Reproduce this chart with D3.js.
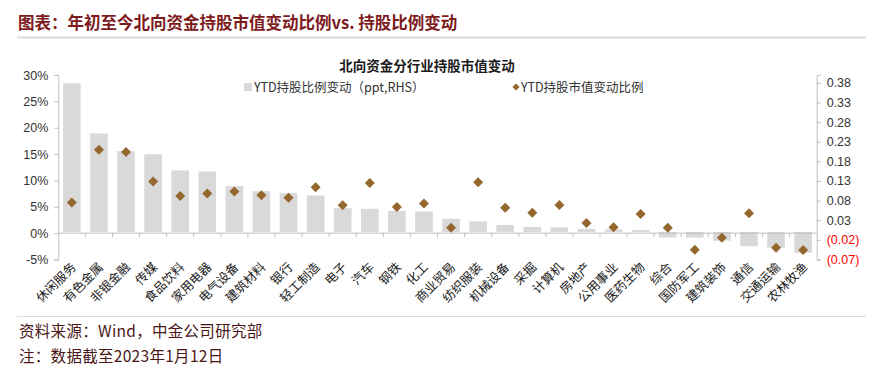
<!DOCTYPE html>
<html><head><meta charset="utf-8">
<script src="https://cdn.jsdelivr.net/npm/d3@7"></script>
<style>
body{margin:0;background:#fff;}
svg{display:block;font-family:"Noto Sans CJK SC","Noto Sans",Arial,sans-serif;}
</style></head>
<body><svg id="c" width="883" height="380"></svg>
<script>
const categories = ["休闲服务","有色金属","非银金融","传媒","食品饮料","家用电器","电气设备","建筑材料","银行","轻工制造","电子","汽车","钢铁","化工","商业贸易","纺织服装","机械设备","采掘","计算机","房地产","公用事业","医药生物","综合","国防军工","建筑装饰","通信","交通运输","农林牧渔"];
// YTD持股比例变动 (ppt, RHS)
const shareChange = [0.379,0.251,0.206,0.198,0.157,0.154,0.117,0.104,0.099,0.093,0.061,0.059,0.054,0.052,0.034,0.027,0.018,0.013,0.012,0.008,0.007,0.005,-0.014,-0.014,-0.022,-0.036,-0.040,-0.053];
// YTD持股市值变动比例 (LHS, %)
const mvChange = [5.8,15.8,15.4,9.8,7.05,7.5,7.9,7.2,6.7,8.7,5.3,9.5,4.96,5.6,1.03,9.65,4.83,3.88,5.34,1.92,1.1,3.63,1.03,-3.16,-0.87,3.76,-2.78,-3.21];
const leftTicks = [-5,0,5,10,15,20,25,30];
const rightTicks = [-0.07,-0.02,0.03,0.08,0.13,0.18,0.23,0.28,0.33,0.38];

const svg = d3.select("#c");
const x0 = 58.3, x1 = 816.7, yTop = 75, yBot = 259.5;
const x = d3.scaleBand().domain(categories).range([x0,x1]).paddingInner(0.35).paddingOuter(0.175);
const yL = d3.scaleLinear().domain([-5,30]).range([yBot,yTop]);
const yR = d3.scaleLinear().domain([-0.07,0.40]).range([yBot,yTop]);
const axisCol = "#bfbfbf", txtCol = "#333";
const diamond = r => `M0,${-r}L${r},0L0,${r}L${-r},0Z`;

// header
svg.append("text").attr("x",18).attr("y",29).attr("font-size",16.5).attr("font-weight","bold")
  .attr("fill","#7d1a1c").text("图表：年初至今北向资金持股市值变动比例vs. 持股比例变动");
svg.append("line").attr("x1",17).attr("x2",866).attr("y1",37.5).attr("y2",37.5).attr("stroke","#dcdcdc").attr("stroke-width",2.2);
svg.append("text").attr("x",427).attr("y",71).attr("text-anchor","middle").attr("font-size",13.5).attr("font-weight","bold")
  .attr("fill","#1a1a1a").text("北向资金分行业持股市值变动");

// legend
svg.append("rect").attr("x",244).attr("y",83).attr("width",8).attr("height",8).attr("fill","#d9d9d9");
svg.append("text").attr("x",254).attr("y",92).attr("font-size",12.5).attr("fill",txtCol).text("YTD持股比例变动（ppt,RHS）");
svg.append("path").attr("d",diamond(3.6)).attr("transform","translate(516,87)").attr("fill","#94672f");
svg.append("text").attr("x",521).attr("y",92).attr("font-size",12.5).attr("fill",txtCol).text("YTD持股市值变动比例");

// bars
svg.append("g").selectAll("rect").data(categories).join("rect")
  .attr("x",d=>x(d)).attr("width",x.bandwidth())
  .attr("y",(d,i)=>Math.min(yR(shareChange[i]),yR(0)))
  .attr("height",(d,i)=>Math.abs(yR(shareChange[i])-yR(0)))
  .attr("fill","#d9d9d9");

// left axis
const gL = svg.append("g").attr("transform",`translate(${x0},0)`)
  .call(d3.axisLeft(yL).tickValues(leftTicks).tickSize(4).tickPadding(6).tickFormat(d=>d+"%"));
gL.select(".domain").attr("stroke",axisCol);
gL.selectAll(".tick line").attr("stroke",axisCol);
gL.selectAll(".tick text").attr("font-size",12.5).attr("fill",txtCol).attr("font-family","Liberation Sans, Arial, sans-serif");

// right axis
const fmt = d=> d<0 ? "("+Math.abs(d).toFixed(2)+")" : d.toFixed(2);
const gR = svg.append("g").attr("transform",`translate(${x1},0)`)
  .call(d3.axisRight(yR).tickValues(rightTicks).tickSize(4).tickPadding(6).tickFormat(fmt));
gR.select(".domain").attr("stroke",axisCol);
gR.selectAll(".tick line").attr("stroke",axisCol);
gR.selectAll(".tick text").attr("font-size",12.5).attr("font-family","Liberation Sans, Arial, sans-serif")
  .attr("fill",d=>d<0?"#ff0000":txtCol);

// x axis at 0%
const y0 = yL(0);
svg.append("line").attr("x1",x0).attr("x2",x1).attr("y1",y0).attr("y2",y0).attr("stroke",axisCol);
const step = x.step();
svg.append("g").selectAll("line").data(d3.range(1,categories.length)).join("line")
  .attr("x1",i=>x0+i*step).attr("x2",i=>x0+i*step).attr("y1",y0).attr("y2",y0+4).attr("stroke",axisCol);
svg.append("g").selectAll("text").data(categories).join("text")
  .attr("transform",d=>`translate(${x(d)+x.bandwidth()/2+5},${268}) rotate(-45)`)
  .attr("text-anchor","end").attr("font-size",12.5).attr("fill","#1a1a1a").text(d=>d);

// diamonds
svg.append("g").selectAll("path").data(categories).join("path")
  .attr("d",diamond(5))
  .attr("transform",(d,i)=>`translate(${x(d)+x.bandwidth()/2},${yL(mvChange[i])})`)
  .attr("fill","#94672f");

// footer
svg.append("line").attr("x1",17).attr("x2",866).attr("y1",316.5).attr("y2",316.5).attr("stroke","#dcdcdc").attr("stroke-width",1);
svg.append("text").attr("x",19).attr("y",337).attr("font-size",15.5).attr("letter-spacing",0.3).attr("fill","#4a1616").text("资料来源：Wind，中金公司研究部");
svg.append("text").attr("x",19).attr("y",361.5).attr("font-size",15.5).attr("letter-spacing",0.3).attr("fill","#4a1616").text("注：数据截至2023年1月12日");
</script></body></html>
